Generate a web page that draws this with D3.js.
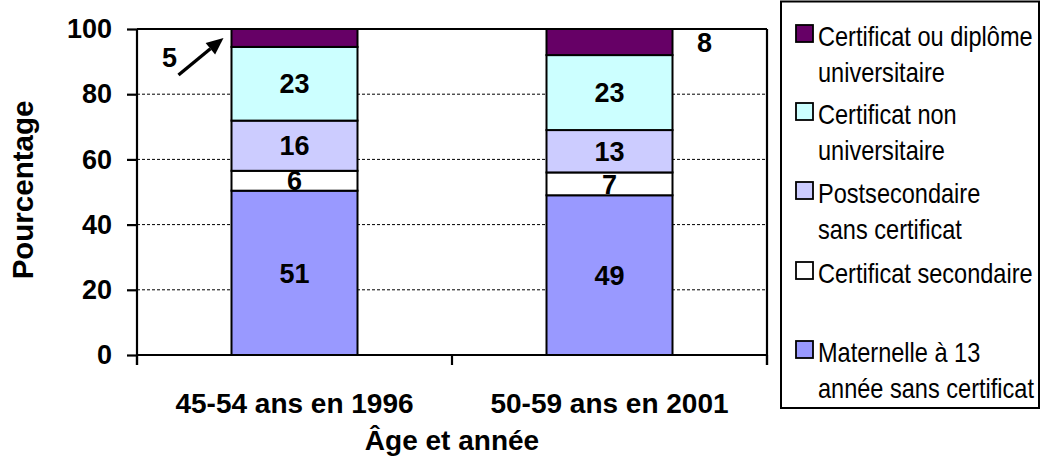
<!DOCTYPE html>
<html>
<head>
<meta charset="utf-8">
<script src="https://cdn.jsdelivr.net/npm/d3@7"></script>
<style>
  html, body { margin: 0; padding: 0; background: #fff; }
  svg { display: block; font-family: "Liberation Sans", Arial, Helvetica, sans-serif; }
</style>
</head>
<body>
<svg id="chart" width="1043" height="461"></svg>
<script>
// ---- Data ----
const categories = ["45-54 ans en 1996", "50-59 ans en 2001"];
const seriesNames = [
  "Maternelle à 13 année sans certificat",
  "Certificat secondaire",
  "Postsecondaire sans certificat",
  "Certificat non universitaire",
  "Certificat ou diplôme universitaire"
];
const seriesColors = ["#9999FF", "#FFFFFF", "#CCCCFF", "#CCFFFF", "#660066"];
// values per series (bottom to top), one per category
const maternelle = [50.4, 49];
const secondaire = [6.1, 7];
const postsecNoCert = [15.4, 13];
const nonUniv = [22.6, 23];
const univ = [5.5, 8];
// printed labels per series, one per category
const labMaternelle = ["51", "49"];
const labSecondaire = ["6", "7"];
const labPostsec = ["16", "13"];
const labNonUniv = ["23", "23"];
const labUniv = ["5", "8"];
const yTicks = [0, 20, 40, 60, 80, 100];
const legendLines = [
  ["Certificat ou diplôme", "universitaire"],
  ["Certificat non", "universitaire"],
  ["Postsecondaire", "sans certificat"],
  ["Certificat secondaire"],
  ["Maternelle à 13", "année sans certificat"]
];
const legendColors = ["#660066", "#CCFFFF", "#CCCCFF", "#FFFFFF", "#9999FF"];

const seriesValues = [maternelle, secondaire, postsecNoCert, nonUniv, univ];
const seriesLabels = [labMaternelle, labSecondaire, labPostsec, labNonUniv, labUniv];

(function () {
// ---- Layout ----
const svg = d3.select("#chart");
const pL = 137, pR = 767, pT = 29, pB = 355;

const x = d3.scaleBand().domain(categories).range([pL, pR])
  .paddingInner(0.6).paddingOuter(0.3);
const y = d3.scaleLinear().domain([0, 100]).range([pB, pT]);

const rows = categories.map((c, i) => {
  const r = { cat: c };
  seriesNames.forEach((s, k) => r[s] = seriesValues[k][i]);
  return r;
});
const stacked = d3.stack().keys(seriesNames)(rows);

// gridlines
svg.append("g").selectAll("line")
  .data(yTicks.filter(t => t > 0 && t < 100))
  .join("line")
  .attr("x1", pL).attr("x2", pR)
  .attr("y1", d => y(d)).attr("y2", d => y(d))
  .attr("stroke", "#000").attr("stroke-width", 1)
  .attr("stroke-dasharray", "3,2");

// bars
const layer = svg.append("g").selectAll("g")
  .data(stacked).join("g")
  .attr("fill", (d, k) => seriesColors[k]);
layer.selectAll("rect")
  .data(d => d.map(p => ({ p, key: d.key })))
  .join("rect")
  .attr("x", d => x(d.p.data.cat))
  .attr("width", x.bandwidth())
  .attr("y", d => y(Math.min(d.p[1], 100)))
  .attr("height", d => y(d.p[0]) - y(Math.min(d.p[1], 100)))
  .attr("stroke", "#000").attr("stroke-width", 2);

// frame: top and right
svg.append("line").attr("x1", pL).attr("x2", pR).attr("y1", y(100)).attr("y2", y(100))
  .attr("stroke", "#000").attr("stroke-width", 2.2);
svg.append("line").attr("x1", pR).attr("x2", pR).attr("y1", y(100)).attr("y2", pB + 10)
  .attr("stroke", "#000").attr("stroke-width", 2.2);

// y axis
const yAxis = d3.axisLeft(y).tickValues(yTicks).tickSize(10).tickSizeOuter(0).tickPadding(15);
const yg = svg.append("g").attr("transform", `translate(${pL},0)`).call(yAxis);
yg.select(".domain").remove();
yg.selectAll(".tick line").attr("stroke", "#000").attr("stroke-width", 2.2);
yg.selectAll(".tick text")
  .attr("fill", "#000")
  .style("font-size", "27px").style("font-weight", "bold")
  .style("font-family", '"Liberation Sans", Arial, sans-serif');
svg.append("line").attr("x1", pL).attr("x2", pL).attr("y1", y(100)).attr("y2", pB + 10)
  .attr("stroke", "#000").attr("stroke-width", 2.2);

// x axis
const xAxis = d3.axisBottom(x).tickSize(0).tickPadding(38);
const xg = svg.append("g").attr("transform", `translate(0,${pB})`).call(xAxis);
xg.select(".domain").remove();
xg.selectAll(".tick text")
  .attr("fill", "#000")
  .style("font-size", "28px").style("font-weight", "bold")
  .style("font-family", '"Liberation Sans", Arial, sans-serif');
svg.append("line").attr("x1", pL).attr("x2", pR).attr("y1", pB).attr("y2", pB)
  .attr("stroke", "#000").attr("stroke-width", 2.2);
const bounds = [x.range()[0],
  (x(categories[0]) + x.bandwidth() + x(categories[1])) / 2,
  x.range()[1]];
svg.append("g").selectAll("line").data(bounds).join("line")
  .attr("x1", d => d).attr("x2", d => d)
  .attr("y1", pB).attr("y2", pB + 10)
  .attr("stroke", "#000").attr("stroke-width", 2.2);

// data labels (inner series)
const labelG = svg.append("g")
  .style("font-size", "27px").style("font-weight", "bold").attr("fill", "#000")
  .attr("text-anchor", "middle");
stacked.forEach((s, k) => {
  if (k === stacked.length - 1) return;
  s.forEach((p, i) => {
    labelG.append("text")
      .attr("x", x(p.data.cat) + x.bandwidth() / 2)
      .attr("y", (y(p[0]) + y(p[1])) / 2)
      .attr("dy", "0.36em")
      .text(seriesLabels[k][i]);
  });
});

// top-series annotations
const topS = stacked[stacked.length - 1];
const mid0 = (y(topS[0][0]) + y(Math.min(topS[0][1], 100))) / 2;
const mid1 = (y(topS[1][0]) + y(Math.min(topS[1][1], 100))) / 2;
const bx0 = x(categories[0]);
labelG.append("text").attr("x", bx0 - 62).attr("y", mid0 + 19).attr("dy", "0.36em").text(labUniv[0]);
labelG.append("text").attr("x", x(categories[1]) + x.bandwidth() + 32).attr("y", mid1).attr("dy", "0.36em").text(labUniv[1]);

// arrow
const ax1 = bx0 - 53, ay1 = mid0 + 37, ax2 = bx0 - 8, ay2 = mid0;
const ang = Math.atan2(ay2 - ay1, ax2 - ax1);
const hl = 17, hw = 7.5;
const bxh = ax2 - hl * Math.cos(ang), byh = ay2 - hl * Math.sin(ang);
svg.append("line").attr("x1", ax1).attr("y1", ay1).attr("x2", bxh).attr("y2", byh)
  .attr("stroke", "#000").attr("stroke-width", 3.4);
svg.append("path")
  .attr("d", `M${ax2},${ay2} L${bxh - hw * Math.sin(ang)},${byh + hw * Math.cos(ang)} L${bxh + hw * Math.sin(ang)},${byh - hw * Math.cos(ang)} Z`)
  .attr("fill", "#000");

// axis titles
svg.append("text").attr("x", (pL + pR) / 2).attr("y", 450)
  .attr("text-anchor", "middle").style("font-size", "28px").style("font-weight", "bold")
  .attr("fill", "#000").text("Âge et année");
svg.append("text").attr("transform", "translate(33,190) rotate(-90)")
  .attr("text-anchor", "middle").style("font-size", "29.5px").style("font-weight", "bold")
  .attr("fill", "#000").text("Pourcentage");

// legend
const lg = svg.append("g");
lg.append("rect").attr("x", 781).attr("y", 1.5).attr("width", 258).attr("height", 406.5)
  .attr("fill", "#fff").attr("stroke", "#000").attr("stroke-width", 2);
const entryY = [46, 124, 203, 283, 362];
legendLines.forEach((lines, k) => {
  const by = entryY[k];
  lg.append("rect").attr("x", 796).attr("y", by - 21).attr("width", 17).attr("height", 17)
    .attr("fill", legendColors[k]).attr("stroke", "#000").attr("stroke-width", 1.8);
  lines.forEach((t, j) => {
    lg.append("g").attr("transform", `translate(818,${by + j * 36}) scale(0.872,1)`)
      .append("text").attr("x", 0).attr("y", 0)
      .style("font-size", "27px").attr("fill", "#000").text(t);
  });
});
})();
</script>
</body>
</html>
